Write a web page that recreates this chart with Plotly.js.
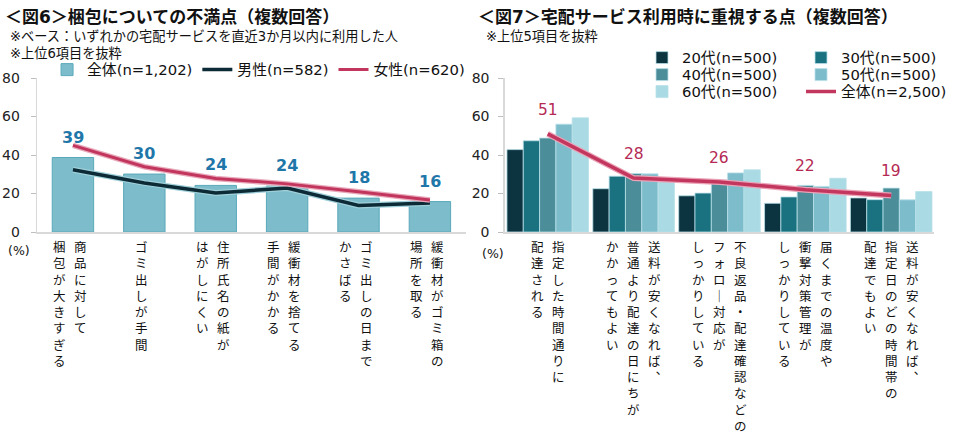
<!DOCTYPE html>
<html><head><meta charset="utf-8">
<script src="https://cdn.plot.ly/plotly-3.0.1.min.js"></script>
<style>body{margin:0;background:#fff}#chart{width:960px;height:446px}</style>
</head><body><div id="chart"></div>
<script>
// ---- Data: Figure 6 ----
const cats6 = ["商品に対して/梱包が大きすぎる","ゴミ出しが手間","住所氏名の紙が/はがしにくい","緩衝材を捨てる/手間がかかる","ゴミ出しの日まで/かさばる","緩衝材がゴミ箱の/場所を取る"];
const total6 = [38.7, 30.1, 24.2, 23.9, 17.6, 15.8];
const male6 = [32.3, 25.5, 20.3, 22.8, 13.8, 15.1];
const female6 = [45.0, 33.9, 27.8, 25.0, 20.9, 16.6];
const names6 = ["全体(n=1,202)","男性(n=582)","女性(n=620)"];

// ---- Data: Figure 7 ----
const cats7 = ["指定した時間通りに/配達される","送料が安くなれば、/普通より配達の日にちが/かかってもよい","不良返品・配達確認などの/フォロー対応が/しっかりしている","届くまでの温度や/衝撃対策管理が/しっかりしている","送料が安くなれば、/指定日のどの時間帯の/配達でもよい"];
const age20 = [42.8, 22.5, 18.8, 14.9, 17.7];
const age30 = [47.4, 29.0, 20.2, 18.2, 16.8];
const age40 = [48.8, 30.4, 27.0, 24.2, 22.8];
const age50 = [56.0, 30.2, 30.7, 23.7, 16.7];
const age60 = [59.3, 26.3, 32.3, 27.9, 21.0];
const all7 = [51, 28, 26, 22, 19];
const names7 = ["20代(n=500)","30代(n=500)","40代(n=500)","50代(n=500)","60代(n=500)","全体(n=2,500)"];
const yTicks = [0, 20, 40, 60, 80];

// ---- Styles ----
const TXT = '"DejaVu Sans", "Noto Sans CJK JP", sans-serif';
const ageColors = ['#0c3440','#1a7280','#4b8d99','#7dbccb','#aadbe4'];
const ageLegends = ['legend2','legend2','legend3','legend3','legend4'];

const traces = [];
// Fig 6
traces.push({type:'bar', x:cats6, y:total6, name:names6[0], xaxis:'x', yaxis:'y', width:0.58,
  marker:{color:'#7cbccb', line:{color:'#5aa9ba', width:1}}, legend:'legend', hoverinfo:'skip'});
traces.push({type:'scatter', mode:'lines', x:cats6, y:male6, xaxis:'x', yaxis:'y', showlegend:false,
  line:{color:'#9fd0da', width:6}, hoverinfo:'skip'});
traces.push({type:'scatter', mode:'lines', x:cats6, y:male6, name:names6[1], xaxis:'x', yaxis:'y',
  line:{color:'#0d2b36', width:3.5}, legend:'legend', hoverinfo:'skip'});
traces.push({type:'scatter', mode:'lines', x:cats6, y:female6, xaxis:'x', yaxis:'y', showlegend:false,
  line:{color:'#e9a9bb', width:5.5}, hoverinfo:'skip'});
traces.push({type:'scatter', mode:'lines', x:cats6, y:female6, name:names6[2], xaxis:'x', yaxis:'y',
  line:{color:'#c2365e', width:3}, legend:'legend', hoverinfo:'skip'});
// Fig 7
const ageSeries = [age20, age30, age40, age50, age60];
ageSeries.forEach((vals, i) => {
  traces.push({type:'bar', x:cats7, y:vals, name:names7[i], xaxis:'x2', yaxis:'y2',
    marker:{color:ageColors[i], line:{color:'#b8e0e8', width:0.8}},
    legend: ageLegends[i], hoverinfo:'skip'});
});
traces.push({type:'scatter', mode:'lines', x:cats7, y:all7, xaxis:'x2', yaxis:'y2', showlegend:false,
  line:{color:'#eba3b7', width:6}, hoverinfo:'skip'});
traces.push({type:'scatter', mode:'lines', x:cats7, y:all7, name:names7[5], xaxis:'x2', yaxis:'y2',
  line:{color:'#c3375f', width:3.5}, legend:'legend4', hoverinfo:'skip'});

// ---- Annotations ----
const ann = [];
function vert(s){
  return s.split('').map(c => c==='ー' ? '｜' : (c==='、' ? '︑' : c)).join('<br>');
}
function catLabels(cats, xref, yref, spacing, offset){
  cats.forEach(c => {
    const cols = c.split('/');
    const n = cols.length;
    cols.forEach((col, k) => {
      ann.push({xref:xref, yref:yref, x:c, y:0, yanchor:'top', xanchor:'center', valign:'top',
        xshift: ((n-1)/2 - k)*spacing + offset, yshift:-6, showarrow:false, align:'center',
        text: vert(col), font:{family:TXT, size:12.5, color:'#111'}});
    });
  });
}
catLabels(cats6, 'x', 'y', 21, -3);
catLabels(cats7, 'x2', 'y2', 21, 0);

// value labels
cats6.forEach((c, i) => ann.push({xref:'x', yref:'y', x:c, y:total6[i], yanchor:'bottom', yshift:9,
  showarrow:false, text:String(Math.round(total6[i])), font:{family:TXT, size:16, color:'#1f77a9', weight:'bold'}}));
cats7.forEach((c, i) => ann.push({xref:'x2', yref:'y2', x:c, y:all7[i], yanchor:'bottom', yshift:13,
  showarrow:false, text:String(all7[i]), font:{family:TXT, size:15.5, color:'#b52a55'}}));

// titles
ann.push({xref:'paper', yref:'paper', x:3/960, y:1-5/446, xanchor:'left', yanchor:'top', showarrow:false,
  text:'＜図6＞梱包についての不満点（複数回答）', font:{family:TXT, size:17, color:'#111', weight:'bold'}});
ann.push({xref:'paper', yref:'paper', x:8/960, y:1-36/446, xanchor:'left', yanchor:'middle', showarrow:false,
  text:'※ベース：いずれかの宅配サービスを直近3か月以内に利用した人', font:{family:TXT, size:13.2, color:'#111'}});
ann.push({xref:'paper', yref:'paper', x:8/960, y:1-53/446, xanchor:'left', yanchor:'middle', showarrow:false,
  text:'※上位6項目を抜粋', font:{family:TXT, size:13.2, color:'#111'}});
ann.push({xref:'paper', yref:'paper', x:486/960, y:1-5/446, xanchor:'left', yanchor:'top', showarrow:false,
  text:'＜図7＞宅配サービス利用時に重視する点（複数回答）', font:{family:TXT, size:17, color:'#111', weight:'bold'}});
ann.push({xref:'paper', yref:'paper', x:494/960, y:1-36/446, xanchor:'left', yanchor:'middle', showarrow:false,
  text:'※上位5項目を抜粋', font:{family:TXT, size:13.2, color:'#111'}});
ann.push({xref:'paper', yref:'paper', x:19/960, y:1-251/446, xanchor:'center', yanchor:'middle', showarrow:false,
  text:'(%)', font:{family:TXT, size:12.5, color:'#111'}});
ann.push({xref:'paper', yref:'paper', x:503/960, y:1-253/446, xanchor:'center', yanchor:'middle', showarrow:false,
  text:'(%)', font:{family:TXT, size:12.5, color:'#111'}});

const yDom = [1-232/446, 1-78/446];
const axisY = {range:[0,80], tickvals:yTicks, showline:true, linecolor:'#d9d9d9', linewidth:1.5,
  ticks:'outside', ticklen:5, tickcolor:'#bfbfbf', showgrid:false, zeroline:false,
  tickfont:{family:TXT, size:14, color:'#222'}, ticklabelstandoff:8, domain:yDom, fixedrange:true};
const axisX = {type:'category', showticklabels:false, showline:true, linecolor:'#d9d9d9', linewidth:1.5,
  ticks:'', showgrid:false, zeroline:false, fixedrange:true};

const legFont = {family:TXT, size:14.8, color:'#111'};
function rowLegend(y){
  return {orientation:'h', x:655/960, y:1-y/446, xanchor:'left', yanchor:'middle', font:legFont,
    bgcolor:'rgba(0,0,0,0)', traceorder:'normal', entrywidth:114, entrywidthmode:'pixels'};
}
const layout = {
  width:960, height:446, margin:{l:0, r:0, t:0, b:0},
  paper_bgcolor:'#fff', plot_bgcolor:'#fff',
  barmode:'group', bargap:0.05, bargroupgap:0,
  xaxis: Object.assign({}, axisX, {domain:[38/960, 475/960], anchor:'y'}),
  yaxis: Object.assign({}, axisY, {anchor:'x'}),
  xaxis2: Object.assign({}, axisX, {domain:[515/960, 953/960], anchor:'y2'}),
  yaxis2: Object.assign({}, axisY, {anchor:'x2', ticklabelstandoff:6}),
  legend:{orientation:'h', x:48/960, y:1-70/446, xanchor:'left', yanchor:'middle', font:legFont,
    bgcolor:'rgba(0,0,0,0)', traceorder:'normal'},
  legend2: rowLegend(58),
  legend3: rowLegend(75),
  legend4: rowLegend(92),
  annotations: ann,
  showlegend:true
};
Plotly.newPlot('chart', traces, layout, {displayModeBar:false, staticPlot:true});
</script></body></html>
